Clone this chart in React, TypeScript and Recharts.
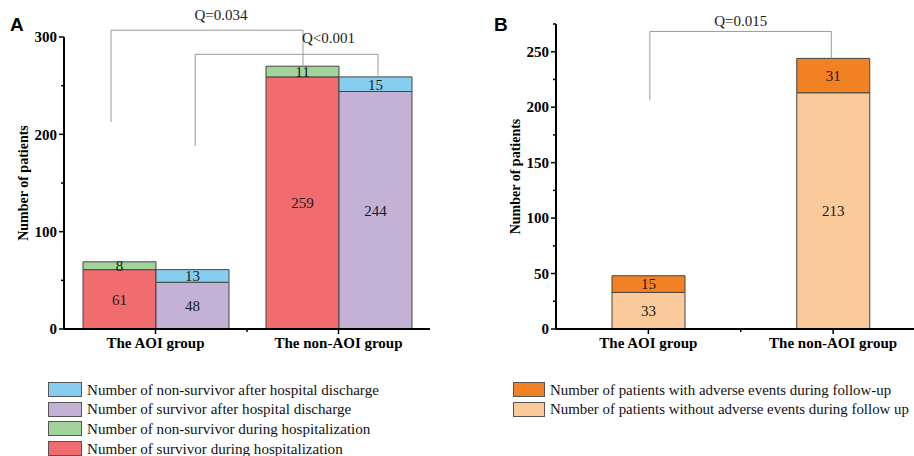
import React from 'react';
import { BarChart, Bar, XAxis, YAxis, LabelList } from 'recharts';

// ---- data ----
const groups = ['The AOI group', 'The non-AOI group'];
// Panel A
const survivorHosp = [61, 259];
const nonSurvivorHosp = [8, 11];
const survivorAfter = [48, 244];
const nonSurvivorAfter = [13, 15];
const ticksA = [0, 50, 100, 150, 200, 250, 300];
// Panel B
const noAdverse = [33, 213];
const withAdverse = [15, 31];
const ticksB = [0, 25, 50, 75, 100, 125, 150, 175, 200, 225, 250, 275];

const legendA = [
  { label: 'Number of non-survivor after hospital discharge', color: '#87CEEE' },
  { label: 'Number of survivor after hospital discharge', color: '#C3B2D6' },
  { label: 'Number of non-survivor during hospitalization', color: '#A1D39B' },
  { label: 'Number of survivor during hospitalization', color: '#F16C6E' },
];
const legendB = [
  { label: 'Number of patients with adverse events during follow-up', color: '#F28124' },
  { label: 'Number of patients without adverse events during follow up', color: '#FBCA9B' },
];

const dataA = groups.map((g, i) => ({
  group: g,
  survivorHosp: survivorHosp[i],
  nonSurvivorHosp: nonSurvivorHosp[i],
  survivorAfter: survivorAfter[i],
  nonSurvivorAfter: nonSurvivorAfter[i],
}));
const dataB = groups.map((g, i) => ({
  group: g,
  noAdverse: noAdverse[i],
  withAdverse: withAdverse[i],
}));

const SERIF = "'Liberation Serif', 'Times New Roman', serif";
const SANS = "'Liberation Sans', Arial, sans-serif";

// layout for panel A and B (plot areas)
const A = { left: 64, top: 37, height: 292, band: 183, max: 300 };
const B = { left: 556, top: 24, height: 305, band: 184.75, max: 275 };
const xOf = (p: any, u: number) => p.left + u * p.band;
const yOf = (p: any, v: number) => p.top + p.height * (1 - v / p.max);

// significance brackets: x in category units, y in data units
const bracketsA = [
  { label: 'Q=0.034', x1: 0.257, x2: 1.306, yTop: 307, y1: 212.7, y2: 270, tx: 0.858, ty: 317.5 },
  { label: 'Q<0.001', x1: 0.717, x2: 1.716, yTop: 282.2, y1: 188.3, y2: 259, tx: 1.445, ty: 293.5 },
];
const bracketsB = [
  { label: 'Q=0.015', x1: 0.508, x2: 1.49, yTop: 268.3, y1: 206.2, y2: 244, tx: 1.0, ty: 273.5 },
];

const makeYTick = (major: number) => (props: any) => {
  const { x, y, payload } = props;
  const v = payload.value;
  const isMajor = v % major === 0;
  return (
    <g>
      <line x1={x - (isMajor ? 5 : 3)} x2={x} y1={y} y2={y} stroke="#000" strokeWidth={1.5} />
      {isMajor && (
        <text x={x - 7} y={y} dy="0.35em" textAnchor="end" fontFamily={SERIF} fontWeight="bold" fontSize={15} fill="#000">
          {v}
        </text>
      )}
    </g>
  );
};

const xTickStyle = { fontFamily: SERIF, fontWeight: 'bold', fontSize: 15, fill: '#000' } as any;
const labelStyle = { fontFamily: SERIF, fontSize: 15, fill: '#1a1a1a' } as any;

const Bracket = ({ p, b }: any) => {
  const x1 = xOf(p, b.x1), x2 = xOf(p, b.x2), yt = yOf(p, b.yTop);
  return (
    <g>
      <path
        d={`M${x1},${yOf(p, b.y1)} L${x1},${yt} L${x2},${yt} L${x2},${yOf(p, b.y2)}`}
        fill="none"
        stroke="#9a9a9a"
        strokeWidth={1}
      />
      <text x={xOf(p, b.tx)} y={yOf(p, b.ty)} textAnchor="middle" fontFamily={SERIF} fontSize={15} fill="#1a1a1a">
        {b.label}
      </text>
    </g>
  );
};

const Legend = ({ items, left, swatchW, fontSize }: any) => (
  <div style={{ position: 'absolute', left, top: 380, whiteSpace: 'nowrap' }}>
    {items.map((it: any) => (
      <div key={it.label} style={{ display: 'flex', alignItems: 'center', height: 19.6 }}>
        <span
          style={{
            display: 'inline-block',
            width: swatchW,
            height: 15,
            background: it.color,
            border: '1px solid #555',
            boxSizing: 'border-box',
            marginRight: 5,
            flex: 'none',
          }}
        />
        <span style={{ fontFamily: SERIF, fontSize, color: '#111', lineHeight: '16px' }}>{it.label}</span>
      </div>
    ))}
  </div>
);

export default function App() {
  return (
    <div style={{ position: 'absolute', left: 0, top: 0, width: 914, height: 456, overflow: 'hidden', background: '#fff' }}>
      <div style={{ position: 'absolute', left: 0, top: 0 }}>
        <BarChart width={460} height={370} data={dataA} margin={{ top: 37, right: 30, bottom: 0, left: 0 }} barGap={0}>
          <XAxis
            dataKey="group"
            height={41}
            tick={xTickStyle}
            tickSize={5}
            tickMargin={3}
            axisLine={{ stroke: '#000', strokeWidth: 2 }}
            tickLine={{ stroke: '#000', strokeWidth: 1.5 }}
          />
          <YAxis
            width={64}
            domain={[0, 300]}
            ticks={ticksA}
            interval={0}
            tickSize={0}
            tickMargin={0}
            tickLine={false}
            tick={makeYTick(100)}
            axisLine={{ stroke: '#000', strokeWidth: 2 }}
            label={{
              value: 'Number of patients',
              angle: -90,
              position: 'insideLeft',
              offset: 23,
              style: { textAnchor: 'middle', fontFamily: SERIF, fontWeight: 'bold', fontSize: 14, fill: '#000' },
            }}
          />
          <Bar dataKey="survivorHosp" stackId="a" fill="#F16C6E" stroke="#444" strokeWidth={1} barSize={73} isAnimationActive={false}>
            <LabelList dataKey="survivorHosp" position="center" style={labelStyle} />
          </Bar>
          <Bar dataKey="nonSurvivorHosp" stackId="a" fill="#A1D39B" stroke="#444" strokeWidth={1} barSize={73} isAnimationActive={false}>
            <LabelList dataKey="nonSurvivorHosp" position="center" style={labelStyle} />
          </Bar>
          <Bar dataKey="survivorAfter" stackId="b" fill="#C3B2D6" stroke="#444" strokeWidth={1} barSize={73} isAnimationActive={false}>
            <LabelList dataKey="survivorAfter" position="center" style={labelStyle} />
          </Bar>
          <Bar dataKey="nonSurvivorAfter" stackId="b" fill="#87CEEE" stroke="#444" strokeWidth={1} barSize={73} isAnimationActive={false}>
            <LabelList dataKey="nonSurvivorAfter" position="center" style={labelStyle} />
          </Bar>
        </BarChart>
      </div>

      <div style={{ position: 'absolute', left: 470, top: 0 }}>
        <BarChart width={470} height={370} data={dataB} margin={{ top: 24, right: 14.5, bottom: 0, left: 0 }} barGap={0}>
          <XAxis
            dataKey="group"
            height={41}
            tick={xTickStyle}
            tickSize={5}
            tickMargin={3}
            axisLine={{ stroke: '#000', strokeWidth: 2 }}
            tickLine={{ stroke: '#000', strokeWidth: 1.5 }}
          />
          <YAxis
            width={86}
            domain={[0, 275]}
            ticks={ticksB}
            interval={0}
            tickSize={0}
            tickMargin={0}
            tickLine={false}
            tick={makeYTick(50)}
            axisLine={{ stroke: '#000', strokeWidth: 2 }}
            label={{
              value: 'Number of patients',
              angle: -90,
              position: 'insideLeft',
              offset: 45,
              style: { textAnchor: 'middle', fontFamily: SERIF, fontWeight: 'bold', fontSize: 14, fill: '#000' },
            }}
          />
          <Bar dataKey="noAdverse" stackId="a" fill="#FBCA9B" stroke="#444" strokeWidth={1} barSize={73} isAnimationActive={false}>
            <LabelList dataKey="noAdverse" position="center" style={labelStyle} />
          </Bar>
          <Bar dataKey="withAdverse" stackId="a" fill="#F28124" stroke="#444" strokeWidth={1} barSize={73} isAnimationActive={false}>
            <LabelList dataKey="withAdverse" position="center" style={labelStyle} />
          </Bar>
        </BarChart>
      </div>

      <svg width={914} height={456} style={{ position: 'absolute', left: 0, top: 0, pointerEvents: 'none' }}>
        {bracketsA.map((b) => (
          <Bracket key={b.label} p={A} b={b} />
        ))}
        {bracketsB.map((b) => (
          <Bracket key={b.label} p={B} b={b} />
        ))}
        {/* small boundary ticks on x axes */}
        <line x1={xOf(A, 1)} x2={xOf(A, 1)} y1={329} y2={332} stroke="#000" strokeWidth={1.5} />
        <line x1={xOf(B, 1)} x2={xOf(B, 1)} y1={329} y2={332} stroke="#000" strokeWidth={1.5} />
        <text x={10} y={31} fontFamily={SANS} fontWeight="bold" fontSize={19} fill="#000">A</text>
        <text x={494} y={31} fontFamily={SANS} fontWeight="bold" fontSize={19} fill="#000">B</text>
      </svg>

      <Legend items={legendA} left={48} swatchW={34} fontSize={15.1} />
      <Legend items={legendB} left={513} swatchW={32} fontSize={14.9} />
    </div>
  );
}
